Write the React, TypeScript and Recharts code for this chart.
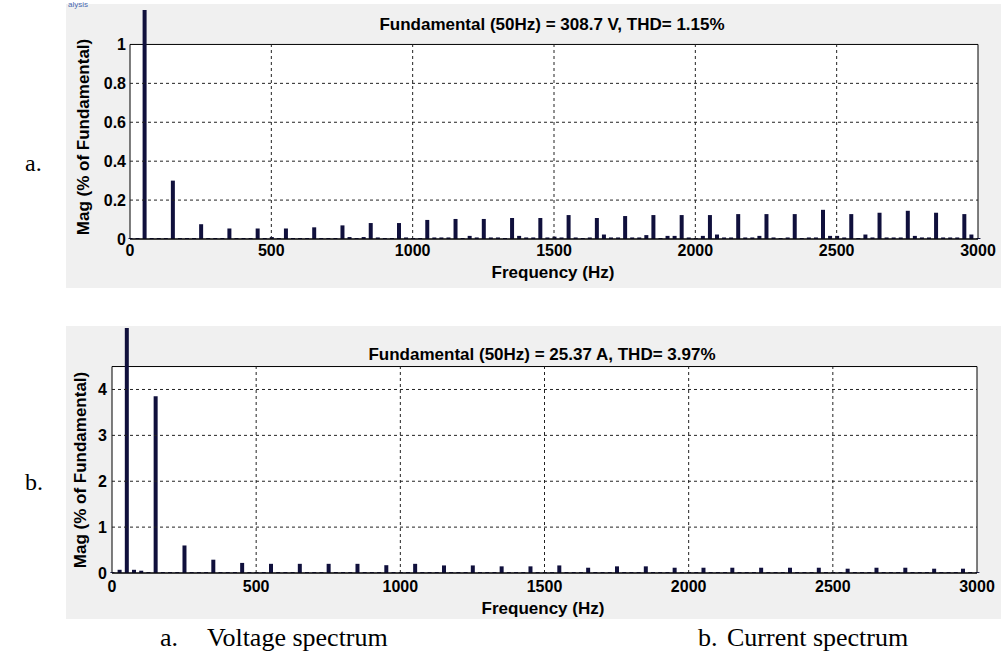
import React from 'react';
import { BarChart, Bar, XAxis, YAxis, ReferenceArea, ReferenceLine } from 'recharts';

// harmonic bins, 25 Hz resolution (0 .. 3000 Hz)
const freqs = [
  0, 25, 50, 75, 100, 125, 150, 175, 200, 225, 250, 275, 300, 325, 350, 375,
  400, 425, 450, 475, 500, 525, 550, 575, 600, 625, 650, 675, 700, 725, 750, 775,
  800, 825, 850, 875, 900, 925, 950, 975, 1000, 1025, 1050, 1075, 1100, 1125, 1150, 1175,
  1200, 1225, 1250, 1275, 1300, 1325, 1350, 1375, 1400, 1425, 1450, 1475, 1500, 1525, 1550, 1575,
  1600, 1625, 1650, 1675, 1700, 1725, 1750, 1775, 1800, 1825, 1850, 1875, 1900, 1925, 1950, 1975,
  2000, 2025, 2050, 2075, 2100, 2125, 2150, 2175, 2200, 2225, 2250, 2275, 2300, 2325, 2350, 2375,
  2400, 2425, 2450, 2475, 2500, 2525, 2550, 2575, 2600, 2625, 2650, 2675, 2700, 2725, 2750, 2775,
  2800, 2825, 2850, 2875, 2900, 2925, 2950, 2975, 3000,
];

// voltage spectrum, % of fundamental
const voltageMag = [
  0.005, 0.005, 100, 0.005, 0.005, 0.005, 0.3, 0.005,
  0.005, 0.005, 0.076, 0.005, 0.005, 0.005, 0.054, 0.005,
  0.005, 0.005, 0.054, 0.005, 0.01, 0.005, 0.054, 0.005,
  0.005, 0.005, 0.06, 0.005, 0.005, 0.005, 0.07, 0.01,
  0.005, 0.01, 0.082, 0.008, 0.005, 0.005, 0.082, 0.008,
  0.005, 0.005, 0.098, 0.008, 0.008, 0.008, 0.103, 0.005,
  0.016, 0.008, 0.103, 0.008, 0.008, 0.005, 0.108, 0.016,
  0.008, 0.008, 0.108, 0.008, 0.012, 0.008, 0.123, 0.008,
  0.005, 0.008, 0.108, 0.023, 0.008, 0.008, 0.118, 0.008,
  0.008, 0.02, 0.123, 0.005, 0.016, 0.016, 0.123, 0.008,
  0.005, 0.016, 0.123, 0.023, 0.008, 0.008, 0.128, 0.008,
  0.008, 0.016, 0.128, 0.008, 0.005, 0.008, 0.128, 0.005,
  0.008, 0.008, 0.15, 0.016, 0.016, 0.008, 0.128, 0.005,
  0.023, 0.008, 0.135, 0.008, 0.008, 0.008, 0.145, 0.016,
  0.008, 0.008, 0.135, 0.008, 0.008, 0.008, 0.128, 0.023,
  0.005,
];

// current spectrum, % of fundamental
const currentMag = [
  0.02, 0.07, 100, 0.07, 0.05, 0.02, 3.85, 0.02,
  0.02, 0.02, 0.6, 0.02, 0.02, 0.02, 0.29, 0.02,
  0.02, 0.02, 0.22, 0.02, 0.02, 0.02, 0.2, 0.02,
  0.02, 0.02, 0.2, 0.02, 0.02, 0.02, 0.2, 0.02,
  0.02, 0.02, 0.2, 0.02, 0.02, 0.02, 0.17, 0.02,
  0.02, 0.02, 0.2, 0.02, 0.02, 0.02, 0.165, 0.02,
  0.02, 0.02, 0.165, 0.02, 0.02, 0.02, 0.145, 0.02,
  0.02, 0.02, 0.145, 0.02, 0.02, 0.02, 0.165, 0.02,
  0.02, 0.02, 0.115, 0.02, 0.02, 0.02, 0.145, 0.02,
  0.02, 0.02, 0.145, 0.02, 0.02, 0.02, 0.115, 0.02,
  0.02, 0.02, 0.115, 0.02, 0.02, 0.02, 0.115, 0.02,
  0.02, 0.02, 0.115, 0.02, 0.02, 0.02, 0.115, 0.02,
  0.02, 0.02, 0.115, 0.02, 0.02, 0.02, 0.094, 0.02,
  0.02, 0.02, 0.115, 0.02, 0.02, 0.02, 0.115, 0.02,
  0.02, 0.02, 0.094, 0.02, 0.02, 0.02, 0.094, 0.02,
  0.02,
];

const xTicks = [0, 500, 1000, 1500, 2000, 2500, 3000];
const xGrid = [500, 1000, 1500, 2000, 2500];
const vTicks = [0, 0.2, 0.4, 0.6, 0.8, 1];
const vGrid = [0.2, 0.4, 0.6, 0.8];
const iTicks = [0, 1, 2, 3, 4];
const iGrid = [1, 2, 3, 4];

const voltageData = freqs.map((f, i) => ({ f, mag: voltageMag[i] }));
const currentData = freqs.map((f, i) => ({ f, mag: currentMag[i] }));

const SANS = '"Liberation Sans", Arial, Helvetica, sans-serif';
const SERIF = '"Liberation Serif", "Times New Roman", serif';
const BAR = '#10103c';
const GRID = '#222';

const tickStyle = { fill: '#000', fontSize: 16, fontWeight: 700, fontFamily: SANS };
const labelStyle = { fill: '#000', fontSize: 17, fontWeight: 700, fontFamily: SANS };

const Panel = ({ top, height }: { top: number; height: number }) => (
  <div style={{ position: 'absolute', left: 66, top, width: 935, height, background: '#f0f0f0' }} />
);

export default function App() {
  return (
    <div style={{ position: 'absolute', left: 0, top: 0, width: 1001, height: 657, background: '#fff', overflow: 'hidden' }}>
      <Panel top={4} height={284} />
      <Panel top={326} height={293} />

      <div style={{ position: 'absolute', left: 68, top: 0, fontFamily: SANS, fontSize: 8, lineHeight: '9px', color: '#4a6ab0' }}>alysis</div>

      {/* a. voltage spectrum */}
      <div style={{ position: 'absolute', left: 0, top: 0 }}>
        <BarChart width={1001} height={300} data={voltageData} margin={{ top: 10, right: 23, left: 70, bottom: 31 }}>
          <ReferenceArea x1={0} x2={3000} y1={0} y2={1} fill="#fff" fillOpacity={1} stroke="#000" strokeWidth={1} />
          {vGrid.map((y) => (
            <ReferenceLine key={'h' + y} y={y} stroke={GRID} strokeDasharray="3 3" />
          ))}
          {xGrid.map((x) => (
            <ReferenceLine key={'v' + x} segment={[{ x, y: 0 }, { x, y: 1 }]} stroke={GRID} strokeDasharray="3 3" />
          ))}
          <XAxis
            dataKey="f"
            type="number"
            domain={[0, 3000]}
            ticks={xTicks}
            height={30}
            tickLine={false}
            tickSize={0}
            tickMargin={6}
            axisLine={{ stroke: '#000' }}
            tick={tickStyle}
          />
          <YAxis
            type="number"
            domain={[0, 1.177]}
            allowDataOverflow
            ticks={vTicks}
            width={60}
            tickLine={false}
            tickSize={0}
            tickMargin={4}
            axisLine={false}
            tick={tickStyle}
          />
          <Bar dataKey="mag" fill={BAR} barSize={4} isAnimationActive={false} />
          <text x={552} y={24} textAnchor="middle" dominantBaseline="central" style={labelStyle}>
            Fundamental (50Hz) = 308.7 V, THD= 1.15%
          </text>
          <text x={553} y={272} textAnchor="middle" dominantBaseline="central" style={labelStyle}>
            Frequency (Hz)
          </text>
          <text x={83} y={137} textAnchor="middle" dominantBaseline="central" transform="rotate(-90 83 137)" style={labelStyle}>
            Mag (% of Fundamental)
          </text>
        </BarChart>
      </div>

      {/* b. current spectrum */}
      <div style={{ position: 'absolute', left: 0, top: 300 }}>
        <BarChart width={1001} height={330} data={currentData} margin={{ top: 28, right: 24, left: 62, bottom: 27 }}>
          <ReferenceArea x1={0} x2={3000} y1={0} y2={4.5} fill="#fff" fillOpacity={1} stroke="#000" strokeWidth={1} />
          {iGrid.map((y) => (
            <ReferenceLine key={'h' + y} y={y} stroke={GRID} strokeDasharray="3 3" />
          ))}
          {xGrid.map((x) => (
            <ReferenceLine key={'v' + x} segment={[{ x, y: 0 }, { x, y: 4.5 }]} stroke={GRID} strokeDasharray="3 3" />
          ))}
          <XAxis
            dataKey="f"
            type="number"
            domain={[0, 3000]}
            ticks={xTicks}
            height={30}
            tickLine={false}
            tickSize={0}
            tickMargin={8}
            axisLine={{ stroke: '#000' }}
            tick={tickStyle}
          />
          <YAxis
            type="number"
            domain={[0, 5.34]}
            allowDataOverflow
            ticks={iTicks}
            width={50}
            tickLine={false}
            tickSize={0}
            tickMargin={5}
            axisLine={false}
            tick={tickStyle}
          />
          <Bar dataKey="mag" fill={BAR} barSize={4} isAnimationActive={false} />
          <text x={542} y={54} textAnchor="middle" dominantBaseline="central" style={labelStyle}>
            Fundamental (50Hz) = 25.37 A, THD= 3.97%
          </text>
          <text x={543} y={308} textAnchor="middle" dominantBaseline="central" style={labelStyle}>
            Frequency (Hz)
          </text>
          <text x={80} y={170} textAnchor="middle" dominantBaseline="central" transform="rotate(-90 80 170)" style={labelStyle}>
            Mag (% of Fundamental)
          </text>
        </BarChart>
      </div>

      <div style={{ position: 'absolute', left: 25, top: 148, fontFamily: SERIF, fontSize: 24, lineHeight: '30px' }}>a.</div>
      <div style={{ position: 'absolute', left: 25, top: 467, fontFamily: SERIF, fontSize: 24, lineHeight: '30px' }}>b.</div>

      <div style={{ position: 'absolute', left: 160, top: 622, fontFamily: SERIF, fontSize: 26, lineHeight: '32px', whiteSpace: 'nowrap' }}>a.</div>
      <div style={{ position: 'absolute', left: 207, top: 622, fontFamily: SERIF, fontSize: 26, lineHeight: '32px', whiteSpace: 'nowrap' }}>Voltage spectrum</div>
      <div style={{ position: 'absolute', left: 698, top: 622, fontFamily: SERIF, fontSize: 26, lineHeight: '32px', whiteSpace: 'nowrap' }}>b.</div>
      <div style={{ position: 'absolute', left: 727, top: 622, fontFamily: SERIF, fontSize: 26, lineHeight: '32px', whiteSpace: 'nowrap' }}>Current spectrum</div>
    </div>
  );
}
